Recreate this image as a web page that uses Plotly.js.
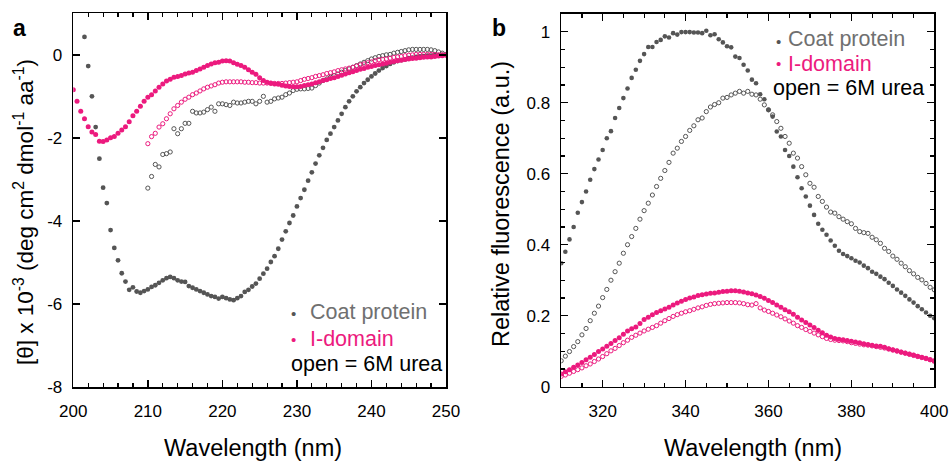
<!DOCTYPE html>
<html>
<head>
<meta charset="utf-8">
<script src="https://cdn.plot.ly/plotly-3.0.1.min.js"></script>
<style>html,body{margin:0;padding:0;background:#fff;}#chart{width:952px;height:462px;}</style>
</head>
<body>
<div id="chart"></div>
<script>
// ---------- Panel a : CD spectra (0.5 nm sampling) ----------
const cdCoatStart = 201.5;
const cdCoatNative = [0.43,-0.27,-1.00,-1.74,-2.50,-3.20,-3.57,-4.22,-4.65,-4.95,-5.26,-5.46,-5.66,-5.60,-5.70,-5.73,-5.69,-5.65,-5.59,-5.55,-5.49,-5.43,-5.38,-5.35,-5.38,-5.43,-5.46,-5.47,-5.57,-5.61,-5.65,-5.69,-5.73,-5.77,-5.81,-5.83,-5.87,-5.83,-5.86,-5.89,-5.91,-5.86,-5.81,-5.71,-5.66,-5.58,-5.51,-5.39,-5.27,-5.15,-4.99,-4.85,-4.67,-4.45,-4.25,-4.05,-3.87,-3.65,-3.45,-3.25,-3.03,-2.83,-2.62,-2.42,-2.24,-2.05,-1.90,-1.74,-1.58,-1.42,-1.26,-1.12,-1.00,-0.88,-0.78,-0.68,-0.60,-0.52,-0.45,-0.38,-0.32,-0.27,-0.22,-0.18,-0.15,-0.13,-0.11,-0.08,-0.07,-0.05,-0.04,-0.03,-0.02,-0.02,-0.01,-0.01,0.00,0.00];
const cdCoatUreaStart = 210;
const cdCoatUrea = [-3.21,-2.93,-2.64,-2.70,-2.40,-2.38,-2.34,-1.78,-1.90,-1.78,-1.65,-1.65,-1.36,-1.40,-1.40,-1.38,-1.32,-1.26,-1.36,-1.18,-1.18,-1.20,-1.22,-1.14,-1.16,-1.16,-1.14,-1.12,-1.12,-1.18,-1.12,-1.00,-1.14,-1.12,-1.06,-1.04,-1.02,-0.96,-0.92,-0.86,-0.83,-0.82,-0.82,-0.81,-0.80,-0.74,-0.68,-0.62,-0.58,-0.54,-0.50,-0.46,-0.42,-0.38,-0.34,-0.30,-0.26,-0.22,-0.18,-0.14,-0.10,-0.07,-0.04,-0.02,0.00,0.01,0.04,0.06,0.08,0.10,0.12,0.13,0.13,0.13,0.13,0.13,0.12,0.10,0.07,0.04,0.01];
const cdIdomStart = 200;
const cdIdomNative = [-0.84,-1.12,-1.36,-1.54,-1.73,-1.86,-1.92,-2.08,-2.09,-2.05,-2.00,-1.97,-1.89,-1.81,-1.73,-1.61,-1.47,-1.36,-1.24,-1.12,-1.02,-0.96,-0.87,-0.78,-0.70,-0.63,-0.59,-0.54,-0.52,-0.50,-0.46,-0.44,-0.42,-0.38,-0.34,-0.30,-0.26,-0.22,-0.19,-0.18,-0.15,-0.14,-0.15,-0.19,-0.23,-0.26,-0.30,-0.36,-0.42,-0.47,-0.55,-0.62,-0.66,-0.68,-0.70,-0.71,-0.73,-0.75,-0.76,-0.77,-0.77,-0.76,-0.74,-0.72,-0.70,-0.67,-0.65,-0.62,-0.60,-0.57,-0.55,-0.52,-0.49,-0.46,-0.43,-0.41,-0.38,-0.35,-0.33,-0.30,-0.28,-0.26,-0.24,-0.22,-0.20,-0.18,-0.16,-0.14,-0.13,-0.11,-0.10,-0.09,-0.08,-0.07,-0.06,-0.05,-0.05,-0.04,-0.03,-0.02,-0.01];
const cdIdomUreaStart = 210;
const cdIdomUrea = [-2.14,-1.97,-1.89,-1.74,-1.66,-1.54,-1.42,-1.30,-1.22,-1.14,-1.07,-1.02,-0.96,-0.92,-0.87,-0.82,-0.78,-0.75,-0.72,-0.68,-0.66,-0.65,-0.65,-0.65,-0.65,-0.65,-0.66,-0.66,-0.67,-0.67,-0.68,-0.68,-0.68,-0.69,-0.69,-0.69,-0.69,-0.68,-0.67,-0.66,-0.65,-0.62,-0.59,-0.57,-0.55,-0.52,-0.50,-0.48,-0.45,-0.43,-0.41,-0.38,-0.36,-0.34,-0.32,-0.30,-0.27,-0.24,-0.22,-0.19,-0.17,-0.14,-0.12,-0.11,-0.10,-0.08,-0.06,-0.05,-0.04,-0.02,-0.01,0.00,0.01,0.01,0.01,0.01,0.01,0.01,0.00,0.00,0.00];
const cdStep = 0.5;
const cdYTickVals = [-8,-6,-4,-2,0];
const cdYTickText = ['-8','-6','-4','-2','0'];

// ---------- Panel b : fluorescence (1 nm sampling) ----------
const flStart = 310;
const flStep = 1;
const flCoatNative = [0.348,0.38,0.415,0.45,0.49,0.52,0.55,0.583,0.613,0.64,0.667,0.70,0.72,0.757,0.785,0.813,0.84,0.87,0.893,0.918,0.937,0.957,0.957,0.971,0.977,0.987,0.984,0.996,0.992,0.999,0.999,0.999,0.998,0.998,0.996,1.003,0.99,0.993,0.979,0.97,0.959,0.956,0.93,0.926,0.907,0.891,0.865,0.855,0.824,0.81,0.78,0.761,0.719,0.705,0.667,0.65,0.62,0.59,0.559,0.536,0.51,0.484,0.459,0.442,0.428,0.412,0.397,0.383,0.374,0.368,0.362,0.355,0.35,0.341,0.334,0.324,0.318,0.31,0.303,0.293,0.284,0.274,0.265,0.256,0.246,0.237,0.227,0.218,0.209,0.2,0.193];
const flCoatUrea = [0.073,0.086,0.099,0.113,0.127,0.146,0.164,0.186,0.207,0.227,0.251,0.274,0.30,0.324,0.348,0.376,0.40,0.423,0.446,0.472,0.496,0.517,0.54,0.564,0.587,0.609,0.632,0.658,0.672,0.691,0.705,0.722,0.735,0.752,0.757,0.775,0.788,0.795,0.80,0.813,0.815,0.822,0.827,0.832,0.827,0.832,0.824,0.822,0.81,0.794,0.78,0.766,0.747,0.728,0.705,0.686,0.658,0.644,0.62,0.597,0.573,0.562,0.536,0.522,0.506,0.492,0.489,0.479,0.472,0.465,0.459,0.446,0.437,0.434,0.432,0.421,0.414,0.404,0.39,0.381,0.368,0.359,0.348,0.338,0.327,0.318,0.308,0.301,0.291,0.28,0.273];
const flIdomNative = [0.036,0.042,0.048,0.055,0.061,0.068,0.076,0.083,0.091,0.099,0.106,0.114,0.122,0.130,0.138,0.148,0.157,0.163,0.168,0.178,0.189,0.196,0.203,0.209,0.214,0.219,0.224,0.230,0.236,0.241,0.246,0.250,0.253,0.257,0.259,0.261,0.263,0.264,0.266,0.268,0.269,0.270,0.270,0.269,0.267,0.264,0.262,0.258,0.254,0.249,0.243,0.237,0.230,0.224,0.217,0.211,0.204,0.196,0.188,0.181,0.174,0.167,0.159,0.152,0.145,0.140,0.136,0.134,0.132,0.130,0.128,0.126,0.124,0.121,0.119,0.117,0.115,0.114,0.111,0.107,0.104,0.101,0.098,0.095,0.092,0.089,0.086,0.083,0.080,0.076,0.072];
const flIdomUrea = [0.029,0.033,0.038,0.043,0.048,0.053,0.059,0.064,0.071,0.078,0.085,0.093,0.101,0.108,0.116,0.124,0.131,0.139,0.145,0.151,0.157,0.162,0.167,0.172,0.179,0.186,0.192,0.198,0.203,0.207,0.211,0.214,0.218,0.222,0.225,0.229,0.232,0.234,0.235,0.236,0.237,0.237,0.237,0.236,0.234,0.231,0.230,0.234,0.222,0.216,0.212,0.207,0.202,0.197,0.191,0.185,0.179,0.172,0.167,0.161,0.156,0.151,0.146,0.141,0.136,0.133,0.131,0.130,0.129,0.127,0.124,0.122,0.120,0.118,0.117,0.115,0.113,0.111,0.109,0.106,0.103,0.100,0.097,0.094,0.091,0.088,0.085,0.082,0.079,0.076,0.073];
const flYTickVals = [0,0.2,0.4,0.6,0.8,1];
const flYTickText = ['0','0.2','0.4','0.6','0.8','1'];

// legend texts
const legendCoat = 'Coat protein';
const legendIdom = 'I-domain';
const legendOpen = 'open = 6M urea';

const GRAY = '#555555', GRAYTXT = '#707070', PINK = '#ec1a7e';
const FONT = 'Liberation Sans, Arial, sans-serif';

function grid(start, step, n){ const a=[]; for(let i=0;i<n;i++) a.push(+(start+i*step).toFixed(2)); return a; }

function filled(xs, ys, color, size, xa, ya){
  return {x:xs, y:ys, type:'scatter', mode:'markers', xaxis:xa, yaxis:ya, showlegend:false, hoverinfo:'skip',
    marker:{symbol:'circle', size:size, color:color, line:{width:0}}};
}
function open(xs, ys, color, size, xa, ya){
  return {x:xs, y:ys, type:'scatter', mode:'markers', xaxis:xa, yaxis:ya, showlegend:false, hoverinfo:'skip',
    marker:{symbol:'circle-open', size:size, color:color, line:{width:1, color:color}}};
}

const traces = [
  open(grid(cdCoatUreaStart, cdStep, cdCoatUrea.length), cdCoatUrea, GRAY, 4.2, 'x', 'y'),
  filled(grid(cdCoatStart, cdStep, cdCoatNative.length), cdCoatNative, GRAY, 4.8, 'x', 'y'),
  open(grid(cdIdomUreaStart, cdStep, cdIdomUrea.length), cdIdomUrea, PINK, 4.2, 'x', 'y'),
  filled(grid(cdIdomStart, cdStep, cdIdomNative.length), cdIdomNative, PINK, 5, 'x', 'y'),
  open(grid(flStart, flStep, flCoatUrea.length), flCoatUrea, GRAY, 4.2, 'x2', 'y2'),
  filled(grid(flStart, flStep, flCoatNative.length), flCoatNative, GRAY, 4.6, 'x2', 'y2'),
  open(grid(flStart, flStep, flIdomUrea.length), flIdomUrea, PINK, 4.2, 'x2', 'y2'),
  filled(grid(flStart, flStep, flIdomNative.length), flIdomNative, PINK, 5, 'x2', 'y2')
];

const W = 952, H = 462;
const px = v => v / W;
const py = v => 1 - v / H;

const axBase = {
  showgrid:false, zeroline:false, showline:true, linecolor:'#000', linewidth:1.6, mirror:'ticks',
  ticks:'inside', ticklen:7, tickwidth:1.4, tickcolor:'#000', automargin:false, fixedrange:true,
  tickfont:{family:FONT, size:17, color:'#000'}
};

const layout = {
  width:W, height:H, margin:{l:0, r:0, t:0, b:0}, paper_bgcolor:'#fff', plot_bgcolor:'#fff',
  font:{family:FONT, color:'#000'}, showlegend:false,
  xaxis: Object.assign({}, axBase, {domain:[px(73.3), px(446)], anchor:'y', range:[200,250], tickmode:'linear', tick0:200, dtick:10,
    ticklabelstandoff:8, minor:{tickmode:'linear', tick0:200, dtick:2, ticks:'inside', ticklen:4, tickwidth:1.2, tickcolor:'#000'}}),
  yaxis: Object.assign({}, axBase, {domain:[py(387), py(13.3)], anchor:'x', range:[-8,1], tickmode:'array', tickvals:cdYTickVals, ticktext:cdYTickText,
    ticklabelstandoff:6}),
  xaxis2: Object.assign({}, axBase, {domain:[px(561.2), px(934.3)], anchor:'y2', range:[310,400], tickmode:'linear', tick0:300, dtick:20,
    ticklabelstandoff:8, minor:{tickmode:'linear', tick0:300, dtick:5, ticks:'inside', ticklen:4, tickwidth:1.2, tickcolor:'#000'}}),
  yaxis2: Object.assign({}, axBase, {domain:[py(386.7), py(14)], anchor:'x2', range:[0,1.05], tickmode:'array', tickvals:flYTickVals, ticktext:flYTickText,
    ticklabelstandoff:6, minor:{tickmode:'linear', tick0:0, dtick:0.05, ticks:'inside', ticklen:4, tickwidth:1.2, tickcolor:'#000'}}),
  annotations: []
};

function ann(text, x, y, opts){
  return Object.assign({text:text, xref:'paper', yref:'paper', x:px(x), y:py(y), showarrow:false,
    xanchor:'left', yanchor:'middle', font:{family:FONT, size:21, color:'#000'}}, opts||{});
}
const A = layout.annotations;
// panel letters
A.push(ann('<b>a</b>', 19, 28, {xanchor:'center', font:{family:FONT, size:23, color:'#000'}}));
A.push(ann('<b>b</b>', 499, 28, {xanchor:'center', font:{family:FONT, size:23, color:'#000'}}));
// axis titles
A.push(ann('Wavelength (nm)', 253, 462, {xanchor:'center', yanchor:'bottom', borderpad:0, font:{family:FONT, size:23.5, color:'#000'}}));
A.push(ann('Wavelength (nm)', 753, 462, {xanchor:'center', yanchor:'bottom', borderpad:0, font:{family:FONT, size:23.5, color:'#000'}}));
A.push(ann('[θ] x 10<sup>-3</sup> (deg cm<sup>2</sup> dmol<sup>-1</sup> aa<sup>-1</sup>)', 24, 212, {xanchor:'center', textangle:-90, font:{family:FONT, size:22.5, color:'#000'}}));
A.push(ann('Relative fluorescence (a.u.)', 501, 204, {xanchor:'center', textangle:-90, font:{family:FONT, size:23.5, color:'#000'}}));
// legend panel a
A.push(ann('•', 293, 313, {xanchor:'center', font:{family:FONT, size:15, color:GRAY}}));
A.push(ann(legendCoat, 308, 312, {font:{family:FONT, size:21.5, color:GRAYTXT}}));
A.push(ann('•', 293, 339, {xanchor:'center', font:{family:FONT, size:15, color:PINK}}));
A.push(ann(legendIdom, 308, 339, {font:{family:FONT, size:21.5, color:PINK}}));
A.push(ann(legendOpen, 289, 364, {font:{family:FONT, size:21.5, color:'#000'}}));
// legend panel b
A.push(ann('•', 778, 41.5, {xanchor:'center', font:{family:FONT, size:15, color:GRAY}}));
A.push(ann(legendCoat, 786, 39, {font:{family:FONT, size:21.5, color:GRAYTXT}}));
A.push(ann('•', 778, 64, {xanchor:'center', font:{family:FONT, size:15, color:PINK}}));
A.push(ann(legendIdom, 786, 63.5, {font:{family:FONT, size:21.5, color:PINK}}));
A.push(ann(legendOpen, 771, 87.5, {font:{family:FONT, size:21.5, color:'#000'}}));

Plotly.newPlot('chart', traces, layout, {staticPlot:true, displayModeBar:false});
</script>
</body>
</html>
